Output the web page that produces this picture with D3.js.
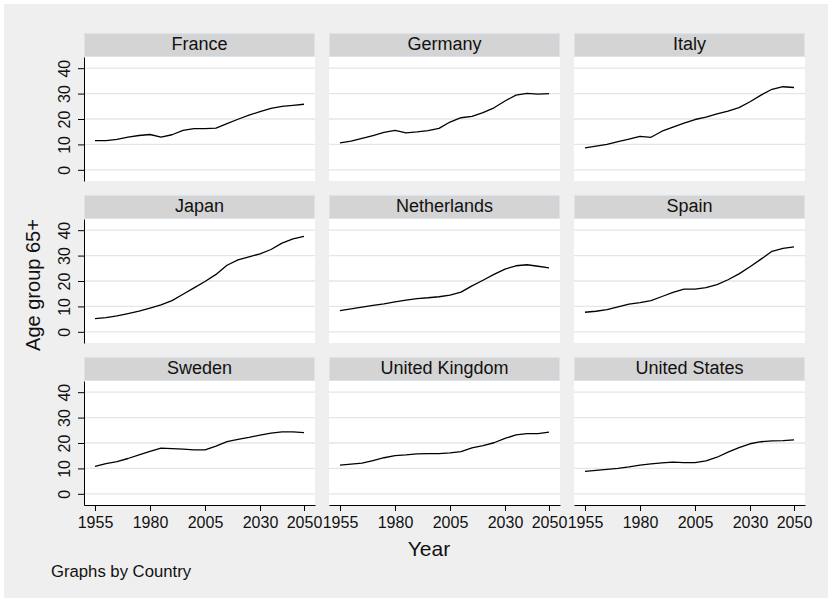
<!DOCTYPE html>
<html>
<head>
<meta charset="utf-8">
<script src="https://cdn.jsdelivr.net/npm/d3@7"></script>
<style>
  html, body { margin: 0; padding: 0; background: #ffffff; }
  svg { display: block; font-family: "Liberation Sans", Arial, sans-serif; }
</style>
</head>
<body>
<svg id="chart" width="828" height="604"></svg>
<script>
// Share of population aged 65+ (%), by country, 1955-2050
const years = [1955, 1960, 1965, 1970, 1975, 1980, 1985, 1990, 1995, 2000,
               2005, 2010, 2015, 2020, 2025, 2030, 2035, 2040, 2045, 2050];

const countries = ["France", "Germany", "Italy", "Japan", "Netherlands", "Spain",
                   "Sweden", "United Kingdom", "United States"];

const france      = [11.5, 11.5, 12.0, 12.9, 13.5, 13.9, 12.9, 13.8, 15.5, 16.2, 16.2, 16.4, 18.2, 19.9, 21.5, 22.9, 24.2, 25.0, 25.4, 25.8];
const germany     = [10.6, 11.3, 12.4, 13.5, 14.7, 15.5, 14.5, 14.9, 15.4, 16.3, 18.8, 20.5, 21.0, 22.5, 24.4, 27.1, 29.4, 30.1, 29.8, 30.0];
const italy       = [8.6, 9.3, 10.0, 11.1, 12.1, 13.2, 12.8, 15.2, 16.8, 18.4, 19.8, 20.7, 22.0, 23.1, 24.5, 26.8, 29.4, 31.7, 32.7, 32.4];
const japan       = [5.2, 5.6, 6.3, 7.2, 8.1, 9.3, 10.6, 12.3, 14.8, 17.3, 19.8, 22.6, 26.2, 28.3, 29.5, 30.7, 32.4, 34.9, 36.6, 37.6];
const netherlands = [8.3, 9.0, 9.7, 10.4, 11.0, 11.8, 12.5, 13.1, 13.4, 13.8, 14.4, 15.6, 18.1, 20.3, 22.6, 24.7, 26.0, 26.4, 25.8, 25.2];
const spain       = [7.7, 8.1, 8.7, 9.8, 10.9, 11.5, 12.3, 13.9, 15.5, 16.8, 16.8, 17.4, 18.6, 20.5, 22.8, 25.6, 28.6, 31.7, 32.8, 33.4];
const sweden      = [10.8, 11.9, 12.7, 13.9, 15.3, 16.7, 18.0, 17.8, 17.6, 17.3, 17.3, 18.8, 20.5, 21.4, 22.2, 23.1, 23.9, 24.4, 24.4, 24.1];
const uk          = [11.3, 11.7, 12.1, 13.1, 14.2, 15.0, 15.3, 15.7, 15.8, 15.8, 16.1, 16.6, 18.1, 19.0, 20.1, 21.8, 23.2, 23.7, 23.7, 24.3];
const us          = [8.8, 9.2, 9.6, 10.0, 10.6, 11.3, 11.8, 12.2, 12.5, 12.3, 12.3, 13.0, 14.4, 16.4, 18.2, 19.7, 20.5, 20.8, 20.9, 21.2];

const seriesList = [france, germany, italy, japan, netherlands, spain, sweden, uk, us];

const xTicks = [1955, 1980, 2005, 2030, 2050];
const yTicks = [0, 10, 20, 30, 40];

const yLabel = "Age group 65+";
const xLabel = "Year";
const note = "Graphs by Country";

// Panel layout
const colX = [84, 329, 574];
const rowTop = [33, 195, 357];
const panelW = 231;
const stripH = 24;
const plotH = 124;
const tickFont = 16;

const svg = d3.select("#chart");

// Graph region background
svg.append("rect")
  .attr("x", 4).attr("y", 4)
  .attr("width", 824).attr("height", 594)
  .attr("fill", "#efefef");

const x = d3.scaleLinear().domain([1950, 2055]).range([0, panelW]);
const y = d3.scaleLinear().domain([-4.4, 44.4]).range([plotH, 0]);

const line = d3.line()
  .x((d, i) => x(years[i]))
  .y(d => y(d));

countries.forEach((name, k) => {
  const col = k % 3, row = Math.floor(k / 3);
  const g = svg.append("g")
    .attr("transform", `translate(${colX[col]},${rowTop[row]})`);

  // Strip header
  g.append("rect")
    .attr("x", 0.5).attr("y", 0.5)
    .attr("width", panelW - 1).attr("height", stripH - 1)
    .attr("fill", "#d4d4d4")
    .attr("stroke", "#dbe4ec")
    .attr("stroke-width", 1);
  g.append("text")
    .attr("x", panelW / 2).attr("y", 16.5)
    .attr("text-anchor", "middle")
    .attr("font-size", 18)
    .attr("fill", "#111")
    .text(name);

  // Plot region
  const p = g.append("g").attr("transform", `translate(0,${stripH})`);
  p.append("rect")
    .attr("width", panelW).attr("height", plotH)
    .attr("fill", "#ffffff");

  // Horizontal grid
  p.selectAll("line.grid")
    .data(yTicks)
    .join("line")
    .attr("class", "grid")
    .attr("x1", 0).attr("x2", panelW)
    .attr("y1", d => y(d)).attr("y2", d => y(d))
    .attr("stroke", "#e6e6e6")
    .attr("stroke-width", 1.3);

  // Series line
  p.append("path")
    .datum(seriesList[k])
    .attr("d", line)
    .attr("fill", "none")
    .attr("stroke", "#000")
    .attr("stroke-width", 1.3)
    .attr("stroke-linejoin", "round");

  // Left axis on the first column
  if (col === 0) {
    const ya = p.append("g")
      .call(d3.axisLeft(y).tickValues(yTicks).tickSize(6).tickSizeOuter(0));
    ya.select(".domain").attr("stroke", "#000").attr("stroke-width", 1);
    ya.selectAll(".tick line").attr("stroke", "#000");
    ya.selectAll(".tick text")
      .attr("transform", "rotate(-90)")
      .attr("x", 0).attr("y", -14).attr("dy", 0)
      .attr("text-anchor", "middle")
      .attr("font-size", tickFont)
      .attr("font-family", "Liberation Sans, Arial, sans-serif")
      .attr("fill", "#111");
  }

  // Bottom axis on the last row
  if (row === 2) {
    const xa = p.append("g")
      .attr("transform", `translate(0,${plotH})`)
      .call(d3.axisBottom(x).tickValues(xTicks).tickFormat(d3.format("d")).tickSize(6).tickSizeOuter(0));
    xa.select(".domain").attr("stroke", "#000").attr("stroke-width", 1);
    xa.selectAll(".tick line").attr("stroke", "#000");
    xa.selectAll(".tick text")
      .attr("y", 23).attr("dy", 0)
      .attr("font-size", tickFont)
      .attr("font-family", "Liberation Sans, Arial, sans-serif")
      .attr("fill", "#111");
  }
});

// Axis titles and note
svg.append("text")
  .attr("transform", "translate(40,285) rotate(-90)")
  .attr("text-anchor", "middle")
  .attr("font-size", 20)
  .attr("fill", "#111")
  .text(yLabel);

svg.append("text")
  .attr("x", 429).attr("y", 556)
  .attr("text-anchor", "middle")
  .attr("font-size", 21)
  .attr("fill", "#111")
  .text(xLabel);

svg.append("text")
  .attr("x", 51).attr("y", 577)
  .attr("font-size", 16.7)
  .attr("fill", "#111")
  .text(note);
</script>
</body>
</html>
